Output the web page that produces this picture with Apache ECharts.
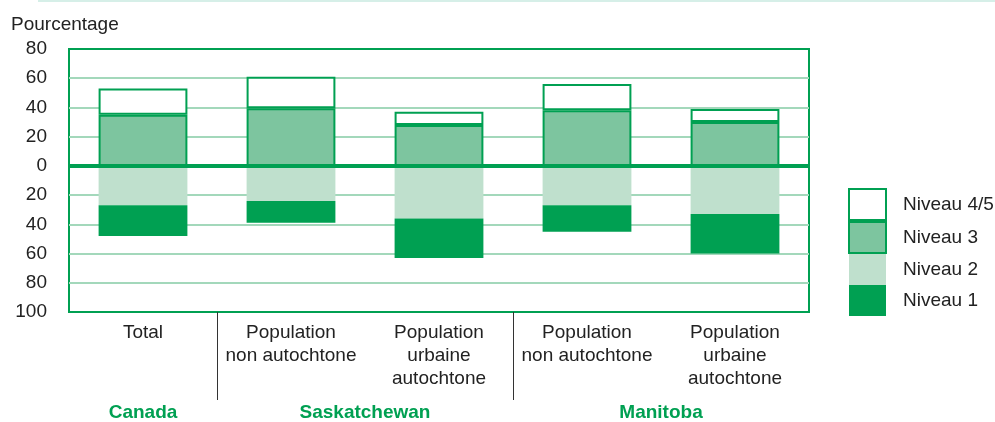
<!doctype html>
<html>
	<head>
		<meta charset="UTF-8">
		<title>Niveaux</title>
		<script src="https://cdn.jsdelivr.net/npm/echarts@6/dist/echarts.min.js"></script>
		<style>
			html, body { margin: 0; padding: 0; background: #fff; }
			#chart { width: 995px; height: 422px; }
		</style>
	</head>
	<body>
		<div id="chart"></div>
		<script type="text/javascript">
			// categories
			var categories = ['Total', 'Population\nnon autochtone', 'Population\nurbaine\nautochtone', 'Population\nnon autochtone', 'Population\nurbaine\nautochtone'];
			var groups = ['Canada', 'Saskatchewan', 'Manitoba'];
			var groupCats = [[0], [1, 2], [3, 4]];

			// valeurs (pourcentages) ; niveaux 1 et 2 vont vers le bas
			var niveau3 = [35, 39.5, 28, 38, 30];
			var niveau45 = [18, 21.5, 9, 18, 9];
			var niveau2 = [27, 24, 36, 27, 33];
			var niveau1 = [21, 15, 27, 18, 27];

			var yTicks = [-100, -80, -60, -40, -20, 0, 20, 40, 60, 80];

			var green = '#00a052';
			var font = "'Liberation Sans', Arial, sans-serif";

			function neg(arr) {
				return arr.map(function(v) { return -v; });
			}

			var chart = echarts.init(document.getElementById('chart'));

			var option = {
				animation: false,
				textStyle: { fontFamily: font },
				title: {
					text: 'Pourcentage',
					left: 11,
					top: 15,
					padding: 0,
					textStyle: { fontFamily: font, fontSize: 19, fontWeight: 'normal', color: '#222' }
				},
				grid: {
					left: 69,
					right: 186,
					top: 49,
					bottom: 110,
					show: true,
					borderColor: green,
					borderWidth: 2
				},
				legend: {
					orient: 'vertical',
					left: 848,
					top: 188,
					width: 147,
					padding: 0,
					icon: 'rect',
					itemWidth: 37,
					itemHeight: 31,
					itemGap: 0,
					selectedMode: false,
					data: ['Niveau 4/5', 'Niveau 3', 'Niveau 2', 'Niveau 1'],
					textStyle: { fontFamily: font, fontSize: 19, color: '#222', padding: [0, 0, 0, 12] }
				},
				xAxis: {
					type: 'category',
					data: categories,
					axisLine: { show: false, onZero: false },
					axisTick: { show: false },
					axisLabel: {
						interval: 0,
						margin: 9,
						fontFamily: font,
						fontSize: 19,
						lineHeight: 23,
						color: '#222'
					}
				},
				yAxis: {
					type: 'value',
					min: yTicks[0],
					max: yTicks[yTicks.length - 1],
					interval: 20,
					axisLine: { show: false },
					axisTick: { show: false },
					axisLabel: {
						margin: 22,
						fontFamily: font,
						fontSize: 19,
						color: '#222',
						formatter: function(v) { return Math.abs(v); }
					},
					splitLine: {
						showMinLine: false,
						showMaxLine: false,
						lineStyle: { color: '#a3d8bb', width: 2 }
					}
				},
				series: [{
					name: 'Niveau 3',
					type: 'bar',
					stack: 'a',
					barCategoryGap: '40%',
					data: niveau3,
					itemStyle: { color: '#7dc59f', borderColor: green, borderWidth: 2 },
					markLine: {
						silent: true,
						symbol: 'none',
						label: { show: false },
						lineStyle: { color: green, width: 4, type: 'solid' },
						data: [{ yAxis: 0 }]
					}
				}, {
					name: 'Niveau 4/5',
					type: 'bar',
					stack: 'a',
					data: niveau45,
					itemStyle: { color: '#ffffff', borderColor: green, borderWidth: 2 }
				}, {
					name: 'Niveau 2',
					type: 'bar',
					stack: 'a',
					data: neg(niveau2),
					itemStyle: { color: '#bfe0cd' }
				}, {
					name: 'Niveau 1',
					type: 'bar',
					stack: 'a',
					data: neg(niveau1),
					itemStyle: { color: green }
				}]
			};

			chart.setOption(option);

			// libellés de groupe et séparateurs sous l'axe
			var bottomY = chart.convertToPixel({ yAxisIndex: 0 }, yTicks[0]);
			var graphics = [{
				type: 'line',
				shape: { x1: 38, y1: 1, x2: 995, y2: 1 },
				style: { stroke: '#d6efe8', lineWidth: 2 }
			}];
			for(var g = 0; g < groups.length; g++) {
				var xs = groupCats[g].map(function(i) {
					return chart.convertToPixel({ xAxisIndex: 0 }, i);
				});
				var cx = (xs[0] + xs[xs.length - 1]) / 2;
				graphics.push({
					type: 'text',
					x: cx,
					y: 413,
					style: {
						text: groups[g],
						fill: green,
						font: 'bold 19px ' + font,
						textAlign: 'center',
						textVerticalAlign: 'middle'
					}
				});
				if(g > 0) {
					var prev = groupCats[g - 1][groupCats[g - 1].length - 1];
					var sx = Math.round((chart.convertToPixel({ xAxisIndex: 0 }, prev) + xs[0]) / 2) + 0.5;
					graphics.push({
						type: 'line',
						shape: { x1: sx, y1: bottomY, x2: sx, y2: bottomY + 88 },
						style: { stroke: '#333', lineWidth: 1 }
					});
				}
			}
			chart.setOption({ graphic: graphics });
		</script>
	</body>
</html>
